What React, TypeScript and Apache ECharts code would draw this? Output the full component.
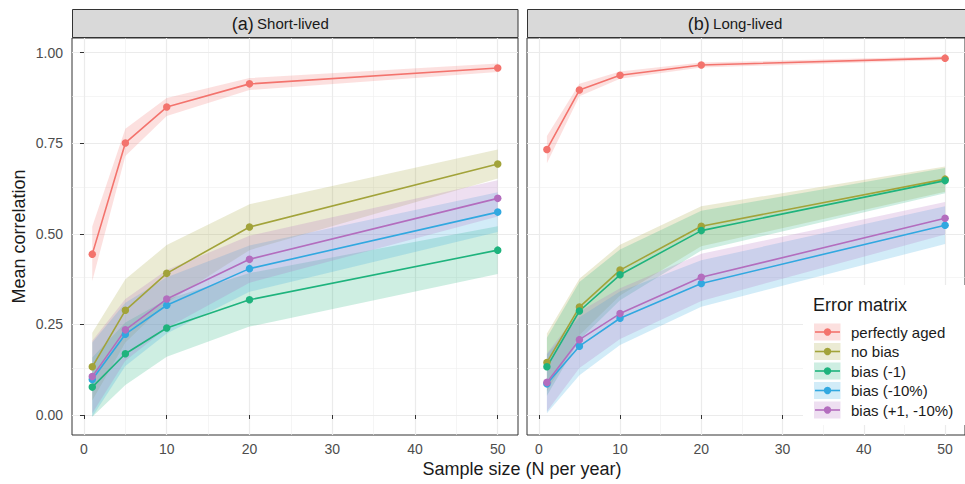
import React, { useEffect, useRef } from "react";
import * as echarts from "echarts";

const X = [1, 5, 10, 20, 50];
const NAMES = ["perfectly aged", "no bias", "bias (-1)", "bias (-10%)", "bias (+1, -10%)"];
const COLORS = ["#F3736D", "#A2A33A", "#1EB37D", "#31A8E0", "#B36DBE"];
const PANELS = ["(a)", "(b)"];
const PANEL_SUB = ["Short-lived", "Long-lived"];
const X_TICKS = [0, 10, 20, 30, 40, 50];
const Y_TICKS = [0, 0.25, 0.5, 0.75, 1];
const X_MINOR = [5, 15, 25, 35, 45];
const Y_MINOR = [0.125, 0.375, 0.625, 0.875];

// Short-lived (a)
const A_MEAN = [
  [0.444, 0.751, 0.85, 0.914, 0.958],
  [0.133, 0.289, 0.391, 0.519, 0.693],
  [0.077, 0.169, 0.24, 0.318, 0.455],
  [0.098, 0.223, 0.303, 0.404, 0.56],
  [0.106, 0.235, 0.32, 0.43, 0.598],
];
const A_LOW = [
  [0.37, 0.715, 0.825, 0.897, 0.947],
  [0.04, 0.2, 0.31, 0.455, 0.653],
  [-0.005, 0.083, 0.161, 0.244, 0.389],
  [-0.005, 0.135, 0.225, 0.34, 0.505],
  [0.005, 0.15, 0.24, 0.365, 0.548],
];
const A_HIGH = [
  [0.52, 0.79, 0.875, 0.93, 0.97],
  [0.227, 0.375, 0.469, 0.582, 0.733],
  [0.159, 0.255, 0.319, 0.392, 0.521],
  [0.2, 0.31, 0.38, 0.468, 0.615],
  [0.205, 0.32, 0.4, 0.495, 0.648],
];
// Long-lived (b)
const B_MEAN = [
  [0.733, 0.897, 0.938, 0.966, 0.985],
  [0.145, 0.298, 0.4, 0.521, 0.651],
  [0.133, 0.287, 0.387, 0.509, 0.647],
  [0.086, 0.19, 0.267, 0.363, 0.524],
  [0.09, 0.208, 0.28, 0.38, 0.543],
];
const B_LOW = [
  [0.695, 0.88, 0.928, 0.959, 0.98],
  [0.065, 0.22, 0.33, 0.466, 0.616],
  [0.053, 0.207, 0.317, 0.454, 0.612],
  [0.005, 0.11, 0.193, 0.299, 0.472],
  [0.01, 0.13, 0.21, 0.315, 0.498],
];
const B_HIGH = [
  [0.77, 0.914, 0.948, 0.973, 0.99],
  [0.225, 0.376, 0.47, 0.576, 0.686],
  [0.213, 0.367, 0.457, 0.564, 0.682],
  [0.167, 0.27, 0.341, 0.427, 0.576],
  [0.17, 0.286, 0.35, 0.445, 0.588],
];

const FONT = "Liberation Sans, Arial, sans-serif";

export default function App() {
  const ref = useRef<HTMLDivElement>(null);
  useEffect(() => {
    if (!ref.current) return;
    const chart = echarts.init(ref.current, null, { renderer: "svg" });
    const means = [A_MEAN, B_MEAN];
    const lows = [A_LOW, B_LOW];
    const highs = [A_HIGH, B_HIGH];
    const series: any[] = [];
    const gridLineStyle = (w: number, c: string) => ({ color: c, width: w, type: "solid" });
    for (let p = 0; p < 2; p++) {
      const mk: any[] = [];
      X_MINOR.forEach((v) => mk.push({ xAxis: v, lineStyle: gridLineStyle(0.6, "#EFEFEF") }));
      Y_MINOR.forEach((v) => mk.push({ yAxis: v, lineStyle: gridLineStyle(0.6, "#EFEFEF") }));
      X_TICKS.forEach((v) => mk.push({ xAxis: v, lineStyle: gridLineStyle(1.2, "#EBEBEB") }));
      Y_TICKS.forEach((v) => mk.push({ yAxis: v, lineStyle: gridLineStyle(1.2, "#EBEBEB") }));
      series.push({
        type: "line",
        xAxisIndex: p,
        yAxisIndex: p,
        data: [[0, 0]],
        symbol: "none",
        lineStyle: { opacity: 0 },
        silent: true,
        z: 0,
        markLine: { silent: true, symbol: ["none", "none"], label: { show: false }, z: 0, data: mk, animation: false },
      });
      for (let i = 0; i < 5; i++) {
        const rows = X.map((x, k) => [x, lows[p][i][k], highs[p][i][k]]);
        series.push({
          type: "custom",
          xAxisIndex: p,
          yAxisIndex: p,
          data: rows,
          silent: true,
          z: 1,
          encode: { x: 0, y: [1, 2] },
          renderItem: (params: any, api: any) => {
            if (params.dataIndex !== 0) return null;
            const top = rows.map((r) => api.coord([r[0], r[2]]));
            const bot = rows
              .slice()
              .reverse()
              .map((r) => api.coord([r[0], r[1]]));
            return {
              type: "polygon",
              shape: { points: top.concat(bot) },
              style: { fill: COLORS[i], opacity: 0.22 },
            };
          },
        });
      }
      for (let i = 0; i < 5; i++) {
        series.push({
          type: "line",
          name: NAMES[i],
          xAxisIndex: p,
          yAxisIndex: p,
          data: X.map((x, k) => [x, means[p][i][k]]),
          symbol: "circle",
          symbolSize: 7.5,
          lineStyle: { color: COLORS[i], width: 1.6 },
          itemStyle: { color: COLORS[i] },
          z: 3,
        });
      }
    }

    const xAxisCommon = {
      type: "value",
      min: -1.45,
      max: 52.45,
      splitLine: { show: false },
      axisLine: { show: false },
      axisTick: { show: true, customValues: X_TICKS, length: 4, lineStyle: { color: "#333333", width: 1 } },
      axisLabel: { customValues: X_TICKS, color: "#4D4D4D", fontSize: 14, fontFamily: FONT, margin: 7 },
    };
    const yAxisCommon = {
      type: "value",
      min: -0.0552,
      max: 1.0406,
      splitLine: { show: false },
      axisLine: { show: false },
    };

    const legendItems: any[] = [
      { type: "rect", z: 10, shape: { x: 803, y: 285, width: 175, height: 140 }, style: { fill: "#FFFFFF" } },
      {
        type: "text",
        z: 11,
        x: 813,
        y: 305,
        style: { text: "Error matrix", fontSize: 18, fontFamily: FONT, fill: "#1A1A1A", align: "left", verticalAlign: "middle" },
      },
    ];
    NAMES.forEach((n, i) => {
      const cy = 332 + i * 19.5;
      legendItems.push(
        { type: "rect", z: 11, shape: { x: 814, y: cy - 8.5, width: 26.5, height: 17 }, style: { fill: COLORS[i], opacity: 0.22 } },
        { type: "line", z: 12, shape: { x1: 815, y1: cy, x2: 840, y2: cy }, style: { stroke: COLORS[i], lineWidth: 1.6 } },
        { type: "circle", z: 12, shape: { cx: 827.5, cy, r: 3.7 }, style: { fill: COLORS[i] } },
        {
          type: "text",
          z: 12,
          x: 851,
          y: cy,
          style: { text: n, fontSize: 15, fontFamily: FONT, fill: "#1A1A1A", align: "left", verticalAlign: "middle" },
        }
      );
    });

    const strips: any[] = [];
    const panelX = [
      [72.5, 518],
      [527.5, 972.5],
    ];
    for (let p = 0; p < 2; p++) {
      const [x0, x1] = panelX[p];
      strips.push(
        { type: "rect", shape: { x: x0, y: 9.5, width: x1 - x0, height: 28 }, style: { fill: "#D9D9D9", stroke: "#333333", lineWidth: 1 } },
        {
          type: "text",
          x: (x0 + x1) / 2 - 15,
          y: 23.5,
          style: {
            text: `{a|${PANELS[p]}} {b|${PANEL_SUB[p]}}`,
            rich: {
              a: { fontSize: 18, fontFamily: FONT, fill: "#1A1A1A" },
              b: { fontSize: 15, fontFamily: FONT, fill: "#1A1A1A" },
            },
            align: "center",
            verticalAlign: "middle",
          },
        }
      );
    }

    chart.setOption({
      animation: false,
      backgroundColor: "#FFFFFF",
      grid: [
        { left: 72, right: 447, top: 38, bottom: 49, show: true, borderColor: "#333333", borderWidth: 1, backgroundColor: "#FFFFFF" },
        { left: 527, right: -7.5, top: 38, bottom: 49, show: true, borderColor: "#333333", borderWidth: 1, backgroundColor: "#FFFFFF" },
      ],
      xAxis: [
        { ...xAxisCommon, gridIndex: 0 },
        { ...xAxisCommon, gridIndex: 1 },
      ],
      yAxis: [
        {
          ...yAxisCommon,
          gridIndex: 0,
          name: "Mean correlation",
          nameLocation: "middle",
          nameGap: 44,
          nameTextStyle: { fontSize: 18, fontFamily: FONT, color: "#1A1A1A" },
          axisTick: { show: true, customValues: Y_TICKS, length: 4, lineStyle: { color: "#333333", width: 1 } },
          axisLabel: {
            customValues: Y_TICKS,
            color: "#4D4D4D",
            fontSize: 14,
            fontFamily: FONT,
            margin: 9,
            formatter: (v: number) => v.toFixed(2),
          },
        },
        {
          ...yAxisCommon,
          gridIndex: 1,
          axisTick: { show: false },
          axisLabel: { show: false },
        },
      ],
      graphic: [
        ...strips,
        {
          type: "text",
          x: 522,
          y: 469,
          style: {
            text: "Sample size (N per year)",
            fontSize: 18,
            fontFamily: FONT,
            fill: "#1A1A1A",
            align: "center",
            verticalAlign: "middle",
          },
        },
        ...legendItems,
      ],
      series,
    });
    return () => chart.dispose();
  }, []);
  return <div ref={ref} style={{ width: 965, height: 484, position: "absolute", left: 0, top: 0 }} />;
}
